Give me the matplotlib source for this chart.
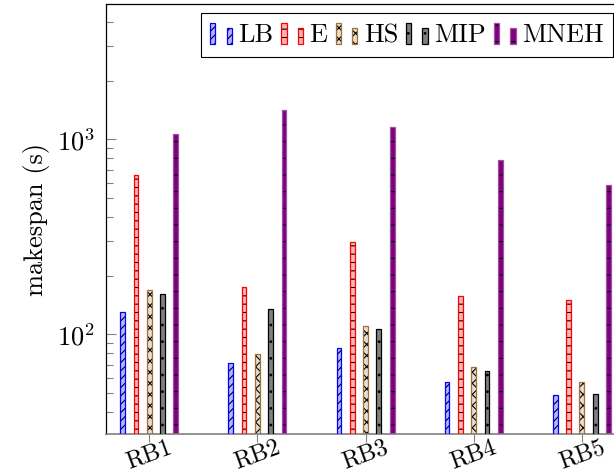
import matplotlib
matplotlib.use("Agg")
import matplotlib.pyplot as plt
from matplotlib.patches import Rectangle
from matplotlib.legend_handler import HandlerBase
from matplotlib.ticker import LogLocator, NullFormatter, NullLocator
import numpy as np

# Makespan per benchmark instance and method (seconds)
categories = ["RB1", "RB2", "RB3", "RB4", "RB5"]
series_names = ["LB", "E", "HS", "MIP", "MNEH"]
lb = [130, 71, 85, 57, 48.6]
e = [654, 175, 297, 157, 150]
hs = [169, 79, 110, 68, 57]
mip = [160, 135, 106, 65, 49.4]
mneh = [1061, 1408, 1152, 783, 581]
series_values = [lb, e, hs, mip, mneh]

# Styles: fill, outline, hatch
fills = ["#b3b3ff", "#ffb3b3", "#e9dccd", "#808080", "#800080"]
edges = ["#0000ff", "#ff0000", "#a0703c", "#000000", "#a050a0"]
hatches = ["////", "--", "xxx", "..", "-"]

plt.rcParams["font.family"] = "cmr10"
plt.rcParams["mathtext.fontset"] = "cm"
plt.rcParams["axes.formatter.use_mathtext"] = True
plt.rcParams["hatch.linewidth"] = 0.8

fig = plt.figure(figsize=(6.14, 4.73), dpi=100)
ax = fig.add_axes([0.1726, 0.0818, 0.8455, 0.9097])
ax.set_yscale("log")

x = np.arange(1, len(categories) + 1)
step = 0.123
width = 0.044
for k, vals in enumerate(series_values):
    pos = x + (k - 2) * step
    # hatched fill (pattern drawn in black)
    ax.bar(pos, vals, width, color=fills[k], edgecolor="black", linewidth=0,
           hatch=hatches[k], zorder=2)
    # coloured outline
    ax.bar(pos, vals, width, fill=False, edgecolor=edges[k], linewidth=0.9,
           zorder=3)

ax.set_xlim(0.6, 5.4)
ax.set_ylim(30.7, 4940)

ax.set_xticks(x)
ax.set_xticklabels(categories, rotation=20, fontsize=17.5)
ax.xaxis.set_minor_locator(NullLocator())
ax.tick_params(axis="x", direction="out", length=6, width=0.8, color="#808080",
               pad=-4.5, top=False)

ax.yaxis.set_major_locator(LogLocator(base=10))
ax.yaxis.set_minor_locator(LogLocator(base=10, subs=np.arange(2, 10)))
ax.yaxis.set_minor_formatter(NullFormatter())
ax.tick_params(axis="y", which="major", direction="in", length=7, width=0.8,
               color="#808080", labelsize=19, pad=8, right=False)
ax.tick_params(axis="y", which="minor", direction="in", length=5, width=0.8,
               color="#808080", right=False)

ax.set_ylabel("makespan (s)", fontsize=19, labelpad=5)

for side in ("left", "top", "right"):
    ax.spines[side].set_color("black")
    ax.spines[side].set_linewidth(0.9)
ax.spines["bottom"].set_color("#808080")
ax.spines["bottom"].set_linewidth(1.2)


class SeriesKey:
    def __init__(self, face, edge, hatch):
        self.face = face
        self.edge = edge
        self.hatch = hatch


class PairedBarHandler(HandlerBase):
    def create_artists(self, legend, orig, xdescent, ydescent, width, height,
                       fontsize, trans):
        w = width * 0.24
        arts = []
        for x0, frac in ((0.0, 1.0), (width - w, 0.77)):
            r1 = Rectangle((x0 - xdescent, -ydescent), w, height * frac,
                           facecolor=orig.face, edgecolor="black", linewidth=0,
                           hatch=orig.hatch, transform=trans)
            r2 = Rectangle((x0 - xdescent, -ydescent), w, height * frac,
                           fill=False, edgecolor=orig.edge, linewidth=0.9,
                           transform=trans)
            arts.extend([r1, r2])
        return arts


keys = [SeriesKey(fills[k], edges[k], hatches[k]) for k in range(len(series_names))]
leg = ax.legend(keys, series_names, handler_map={SeriesKey: PairedBarHandler()},
                loc="upper right", bbox_to_anchor=(0.977, 0.978),
                borderaxespad=0, ncol=5, fontsize=19, handlelength=0.82,
                handleheight=0.85, handletextpad=0.25, columnspacing=0.3,
                borderpad=0.35, fancybox=False, framealpha=1)
leg.get_frame().set_edgecolor("black")
leg.get_frame().set_linewidth(0.8)

fig.savefig("out.png", dpi=100)
